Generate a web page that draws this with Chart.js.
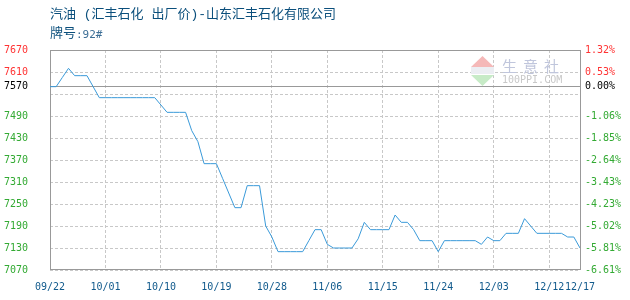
<!DOCTYPE html>
<html><head><meta charset="utf-8">
<script src="https://cdn.jsdelivr.net/npm/chart.js@4"></script>
<style>html,body{margin:0;padding:0;background:#fff}#wrap{position:relative;width:630px;height:300px}</style>
</head><body><div id="wrap"><canvas id="c" width="630" height="300"></canvas></div>
<script>
const titleText = '汽油 (汇丰石化 出厂价)-山东汇丰石化有限公司';
const gradeLabel = '牌号';
const gradeValue = ':92#';
const watermarkCN = ['生', '意', '社'];
const watermarkEN = '100PPI.COM';

// daily prices, 09/22 .. 12/17 (day index 0..86)
const prices = [
  7570, 7570, 7595, 7620, 7600, 7600, 7600, 7570, 7540, 7540,
  7540, 7540, 7540, 7540, 7540, 7540, 7540, 7540, 7520, 7500,
  7500, 7500, 7500, 7450, 7420, 7360, 7360, 7360, 7320, 7280,
  7240, 7240, 7300, 7300, 7300, 7190, 7160, 7120, 7120, 7120,
  7120, 7120, 7150, 7180, 7180, 7140, 7130, 7130, 7130, 7130,
  7155, 7200, 7180, 7180, 7180, 7180, 7220, 7200, 7200, 7180,
  7150, 7150, 7150, 7120, 7150, 7150, 7150, 7150, 7150, 7150,
  7140, 7160, 7150, 7150, 7170, 7170, 7170, 7210, 7190, 7170,
  7170, 7170, 7170, 7170, 7160, 7160, 7130
];
const xTickDays = [0, 9, 18, 27, 36, 45, 54, 63, 72, 81, 86];
const xTickLabels = ['09/22', '10/01', '10/10', '10/19', '10/28', '11/06', '11/15', '11/24', '12/03', '12/12', '12/17'];
const yTickValues = [7070, 7130, 7190, 7250, 7310, 7370, 7430, 7490, 7550, 7570, 7610, 7670];
const yTickLabels = ['7070', '7130', '7190', '7250', '7310', '7370', '7430', '7490', '', '7570', '7610', '7670'];
const y2TickLabels = ['-6.61%', '-5.81%', '-5.02%', '-4.23%', '-3.43%', '-2.64%', '-1.85%', '-1.06%', '', '0.00%', '0.53%', '1.32%'];
const baseValue = 7570;
const yMin = 7070, yMax = 7670;

const tickFont = { family: '"DejaVu Sans Mono", monospace', size: 10 };
const gridGray = '#c8c8c8';
const frameGray = '#999999';
function labelColor(ctx) {
  const v = ctx.tick ? ctx.tick.value : 0;
  if (v > baseValue) return '#ff3333';
  if (v === baseValue) return '#000000';
  return '#33aa33';
}
function yGridColor(ctx) {
  return ctx.tick && ctx.tick.value === baseValue ? frameGray : gridGray;
}
function yDash(ctx) {
  return ctx.tick && ctx.tick.value === baseValue ? [] : [3, 2];
}

const decor = {
  id: 'decor',
  beforeDraw(chart) {
    const c = chart.ctx;
    c.save();
    c.textBaseline = 'middle';
    c.textAlign = 'left';
    c.font = '13px "Liberation Mono", "Noto Sans CJK SC"';
    c.fillStyle = '#0b4f7c';
    c.fillText(titleText, 50, 15);
    c.fillText(gradeLabel, 50, 34);
    const w = c.measureText(gradeLabel).width;
    c.font = '11px "DejaVu Sans Mono", monospace';
    c.fillStyle = '#3c6e96';
    c.fillText(gradeValue, 50 + w, 35);
    c.restore();
  },
  beforeDatasetsDraw(chart) {
    const c = chart.ctx;
    const a = chart.chartArea;
    c.save();
    // watermark
    c.fillStyle = '#f5b8b8';
    c.beginPath(); c.moveTo(482.5, 56); c.lineTo(494, 67); c.lineTo(471, 67); c.closePath(); c.fill();
    c.fillStyle = '#eceef3';
    c.fillRect(471, 67, 23, 7);
    c.fillStyle = '#c7ebc7';
    c.beginPath(); c.moveTo(471, 75); c.lineTo(494, 75); c.lineTo(482.5, 86); c.closePath(); c.fill();
    c.fillStyle = '#c0c6dc';
    c.font = '15px "Noto Sans CJK SC"';
    c.textBaseline = 'middle';
    watermarkCN.forEach((ch, i) => c.fillText(ch, 502 + i * 21, 66));
    c.fillStyle = '#c8c8c8';
    c.font = '10px "DejaVu Sans Mono", monospace';
    c.fillText(watermarkEN, 502, 80);
    // frame
    c.strokeStyle = frameGray;
    c.lineWidth = 1;
    c.strokeRect(Math.round(a.left) + 0.5, Math.round(a.top) + 0.5, Math.round(a.right - a.left), Math.round(a.bottom - a.top) - 1);
    c.restore();
  }
};

new Chart(document.getElementById('c'), {
  type: 'line',
  data: {
    datasets: [{
      data: prices.map((p, i) => ({ x: i, y: p })),
      borderColor: '#3a9ad9',
      borderWidth: 1,
      pointRadius: 0,
      tension: 0,
      fill: false
    }]
  },
  options: {
    responsive: false,
    animation: false,
    devicePixelRatio: 1,
    layout: { padding: { top: 50, left: 0, right: 0, bottom: 0 } },
    plugins: { legend: { display: false }, tooltip: { enabled: false } },
    scales: {
      x: {
        type: 'linear', min: 0, max: 86,
        afterBuildTicks: s => { s.ticks = xTickDays.map(v => ({ value: v })); },
        afterFit: s => { s.height = 30; },
        ticks: { callback: (v, i) => xTickLabels[i], autoSkip: false, maxRotation: 0, padding: 11, color: '#115a8c', font: tickFont },
        grid: { color: gridGray, drawTicks: false, lineWidth: 1 },
        border: { display: false, dash: [3, 2] }
      },
      y: {
        position: 'left', min: yMin, max: yMax,
        afterBuildTicks: s => { s.ticks = yTickValues.map(v => ({ value: v })); },
        afterFit: s => { s.width = 50; },
        ticks: { callback: (v, i) => yTickLabels[i], autoSkip: false, padding: 22, color: labelColor, font: tickFont },
        grid: { color: yGridColor, drawTicks: false, lineWidth: 1 },
        border: { display: false, dash: yDash }
      },
      y2: {
        position: 'right', min: yMin, max: yMax,
        afterBuildTicks: s => { s.ticks = yTickValues.map(v => ({ value: v })); },
        afterFit: s => { s.width = 50; },
        ticks: { callback: (v, i) => y2TickLabels[i], autoSkip: false, padding: 5, color: labelColor, font: tickFont },
        grid: { display: false, drawTicks: false },
        border: { display: false }
      }
    }
  },
  plugins: [decor]
});
</script></body></html>
